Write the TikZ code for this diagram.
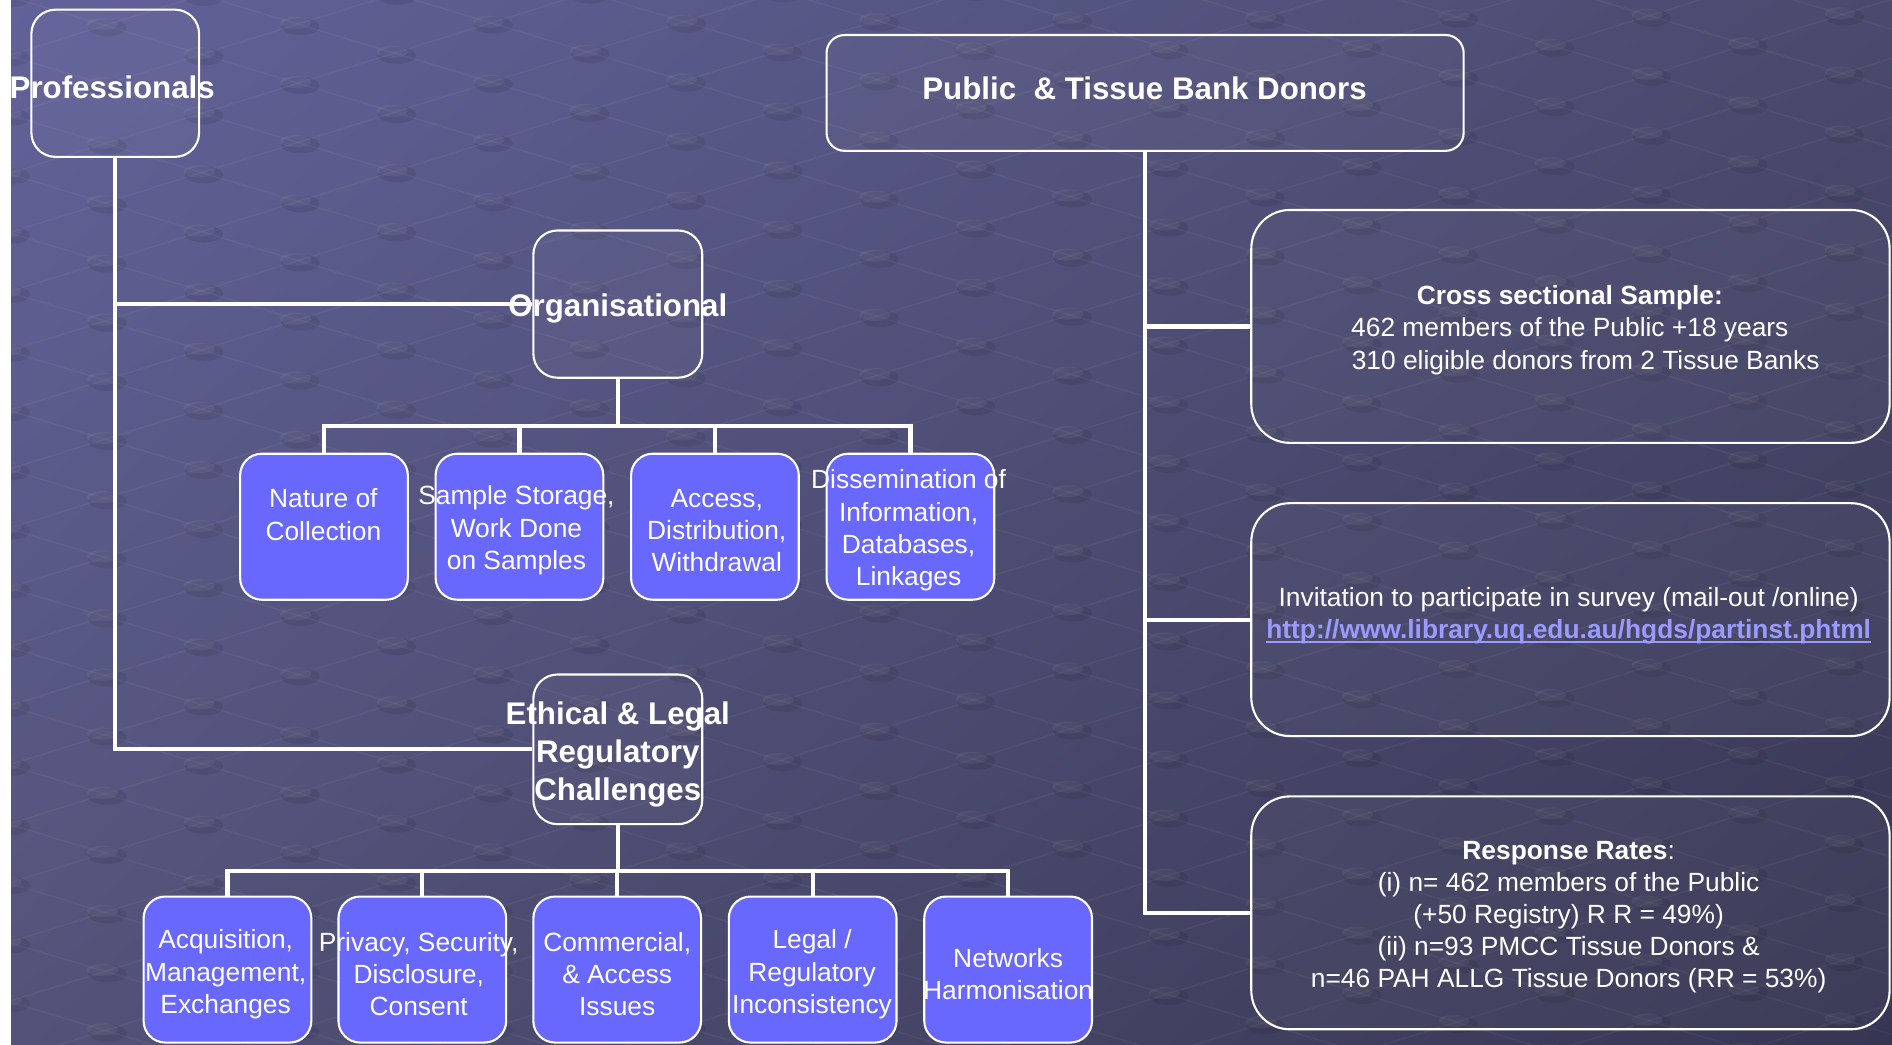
\documentclass[tikz,border=0pt]{standalone}
\usepackage{fontspec}
\usetikzlibrary{shadings}
\setmainfont{Liberation Sans}
\newlength\pxu
\setlength\pxu{0.012066cm}
\definecolor{bgUL}{HTML}{62629A}
\definecolor{bgUR}{HTML}{4A4A6E}
\definecolor{bgLL}{HTML}{535379}
\definecolor{bgLR}{HTML}{363552}
\definecolor{boxblue}{HTML}{6868FF}
\definecolor{urlc}{HTML}{9A9AFF}
\newcommand\ulinkk[1]{\setbox0\hbox{#1}\rlap{\rule[-1.4pt]{\wd0}{0.5pt}}\box0}
\begin{document}
\begin{tikzpicture}[x=0.012066cm, y=-0.012066cm,
  conn/.style={draw=white, line width=1.2pt},
  dbox/.style={draw=white, line width=0.6pt, fill=white, fill opacity=0.03, inner sep=0pt},
  lbox/.style={draw=white, line width=0.6pt, fill=boxblue, inner sep=0pt,
     rounded corners=18\pxu, minimum width=139\pxu, minimum height=121\pxu},
  stxt/.style={text=white, font=\fontsize{7.5}{9.17}\selectfont, align=center, inner sep=0pt, yshift=-0.85pt},
  htxt/.style={text=white, font=\bfseries\fontsize{8.9}{10.8}\selectfont, align=center, inner sep=0pt, yshift=-0.85pt},
  latline/.style={draw=white, opacity=0.045, line width=0.5pt}
]
\useasboundingbox (0,0) rectangle (1568,866);
% background
\shade[upper left=bgUL, upper right=bgUR, lower left=bgLL, lower right=bgLR] (0,0) rectangle (1568,866);
\begin{scope}
\clip (9,0) rectangle (1568,866);
\foreach \j in {-16,...,12} {
  \draw[latline] ({80*(\j-4)+7},{24*(-4)-25*\j+95}) -- ({80*(\j+28)+7},{24*28-25*\j+95});
}
\foreach \i in {-2,...,26} {
  \draw[latline] ({80*(\i-18)+7},{24*\i+25*18+95}) -- ({80*(\i+14)+7},{24*\i-25*14+95});
}
\foreach \i in {-2,...,26} {
  \foreach \j in {-16,...,12} {
    \fill[black, opacity=0.08] ({80*(\i+\j)+9},{24*\i-25*\j+97}) ellipse [x radius=16\pxu, y radius=7\pxu];
    \fill[white, opacity=0.05] ({80*(\i+\j)+5},{24*\i-25*\j+94}) ellipse [x radius=13\pxu, y radius=5\pxu];
  }
}
\end{scope}
\fill[white] (0,0) rectangle (9,866);

\coordinate (orgbar) at (512,353);
\coordinate (ethbar) at (512,722);

% main boxes
\node[dbox, rounded corners=20\pxu, minimum width=139\pxu, minimum height=122\pxu] (prof) at (95.5,69) {};
\node[dbox, rounded corners=15\pxu, minimum width=528\pxu, minimum height=96\pxu] (pub) at (949,77) {};
\node[dbox, rounded corners=20\pxu, minimum width=140\pxu, minimum height=122\pxu] (org) at (512,252) {};
\node[dbox, rounded corners=20\pxu, minimum width=140\pxu, minimum height=124\pxu] (eth) at (512,621) {};
\node[dbox, rounded corners=32\pxu, minimum width=529\pxu, minimum height=193\pxu] (cross) at (1301.5,270.5) {};
\node[dbox, rounded corners=32\pxu, minimum width=529\pxu, minimum height=193\pxu] (inv) at (1301.5,513.5) {};
\node[dbox, rounded corners=32\pxu, minimum width=529\pxu, minimum height=193\pxu] (resp) at (1301.5,756.5) {};

% sub boxes
\node[lbox] (n1) at (268.5,436.5) {};
\node[lbox] (n2) at (430.5,436.5) {};
\node[lbox] (n3) at (592.5,436.5) {};
\node[lbox] (n4) at (754.5,436.5) {};
\node[lbox] (e1) at (188.5,803.5) {};
\node[lbox] (e2) at (350,803.5) {};
\node[lbox] (e3) at (511.5,803.5) {};
\node[lbox] (e4) at (673.5,803.5) {};
\node[lbox] (e5) at (835.5,803.5) {};

% connectors
\draw[conn] (prof.south) -- (prof.south |- eth.west) -- (eth.west);
\draw[conn] (prof.south |- org.west) -- (org.west);
\draw[conn] (org.south) -- (orgbar);
\foreach \n in {n1,n2,n3,n4} \draw[conn] (orgbar) -| (\n.north);
\draw[conn] (eth.south) -- (ethbar);
\foreach \n in {e1,e2,e3,e4,e5} \draw[conn] (ethbar) -| (\n.north);
\draw[conn] (pub.south) -- (pub.south |- resp.west) -- (resp.west);
\draw[conn] (pub.south |- cross.west) -- (cross.west);
\draw[conn] (pub.south |- inv.west) -- (inv.west);

% texts
\node[htxt] (prof-t) at (93,70) {Professionals};
\node[htxt] (pub-t) at (948.5,71) {Public\ \ \& Tissue Bank Donors};
\node[htxt] (org-t) at (512,253) {Organisational};
\node[htxt] (eth-t) at (512,622.5) {Ethical \& Legal\\Regulatory\\Challenges};

\node[stxt] (n1-t) at (268,424) {Nature of\\Collection};
\node[stxt] (n2-t) at (428,437) {Sample Storage,\\Work Done\\on Samples};
\node[stxt] (n3-t) at (594,437) {Access,\\Distribution,\\Withdrawal};
\node[stxt] (n4-t) at (753,437) {Dissemination of\\Information,\\Databases,\\Linkages};

\node[stxt] (e1-t) at (187,805) {Acquisition,\\Management,\\Exchanges};
\node[stxt] (e2-t) at (347,805) {Privacy, Security,\\Disclosure,\\Consent};
\node[stxt] (e3-t) at (511.5,805) {Commercial,\\\& Access\\Issues};
\node[stxt] (e4-t) at (673,805) {Legal /\\Regulatory\\Inconsistency};
\node[stxt] (e5-t) at (835.5,805) {Networks\\Harmonisation};

\node[stxt] (cross-t) at (1301,271) {\textbf{Cross sectional Sample:}\\462 members of the Public +18 years\\\hspace*{9pt}310 eligible donors from 2 Tissue Banks};
\node[stxt] (inv-t) at (1300,507.5) {Invitation to participate in survey (mail-out /online)\\{\color{urlc}\bfseries\ulinkk{http://www.library.uq.edu.au/hgds/partinst.phtml}}};
\node[stxt] (resp-t) at (1300,757.6) {\textbf{Response Rates}:\\(i) n= 462 members of the Public\\(+50 Registry) R R = 49\%)\\(ii) n=93 PMCC Tissue Donors \&\\n=46 PAH ALLG Tissue Donors (RR = 53\%)};
\end{tikzpicture}
\end{document}
